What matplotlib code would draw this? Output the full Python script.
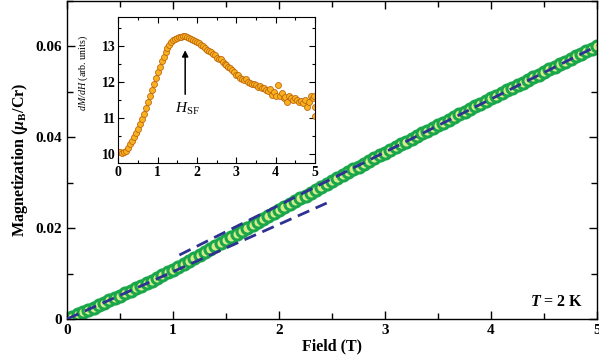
import matplotlib.pyplot as plt
from matplotlib.ticker import MultipleLocator

plt.rcParams['font.family'] = ['Liberation Serif', 'DejaVu Serif']
plt.rcParams['font.weight'] = 'bold'
plt.rcParams['axes.labelweight'] = 'bold'
plt.rcParams['mathtext.fontset'] = 'custom'
plt.rcParams['mathtext.rm'] = 'Liberation Serif:bold'
plt.rcParams['mathtext.it'] = 'Liberation Serif:italic:bold'
plt.rcParams['mathtext.bf'] = 'Liberation Serif:bold'
plt.rcParams['mathtext.sf'] = 'Liberation Serif:italic:normal'   # regular italic for inset
plt.rcParams['mathtext.tt'] = 'Liberation Serif:normal'          # regular roman for inset

# field sweep (T)
field = [0.00, 0.05, 0.10, 0.15, 0.20, 0.25, 0.30, 0.35, 0.40, 0.45,
         0.50, 0.55, 0.60, 0.65, 0.70, 0.75, 0.80, 0.85, 0.90, 0.95,
         1.00, 1.05, 1.10, 1.15, 1.20, 1.25, 1.30, 1.35, 1.40, 1.45,
         1.50, 1.55, 1.60, 1.65, 1.70, 1.75, 1.80, 1.85, 1.90, 1.95,
         2.00, 2.05, 2.10, 2.15, 2.20, 2.25, 2.30, 2.35, 2.40, 2.45,
         2.50, 2.55, 2.60, 2.65, 2.70, 2.75, 2.80, 2.85, 2.90, 2.95,
         3.00, 3.05, 3.10, 3.15, 3.20, 3.25, 3.30, 3.35, 3.40, 3.45,
         3.50, 3.55, 3.60, 3.65, 3.70, 3.75, 3.80, 3.85, 3.90, 3.95,
         4.00, 4.05, 4.10, 4.15, 4.20, 4.25, 4.30, 4.35, 4.40, 4.45,
         4.50, 4.55, 4.60, 4.65, 4.70, 4.75, 4.80, 4.85, 4.90, 4.95,
         5.00]

# magnetization (mu_B/Cr) at T = 2 K
magnet = [0.00000, 0.00050, 0.00101, 0.00151, 0.00201, 0.00252, 0.00303, 0.00355, 0.00407, 0.00459,
          0.00512, 0.00566, 0.00621, 0.00676, 0.00732, 0.00789, 0.00846, 0.00905, 0.00964, 0.01024,
          0.01085, 0.01147, 0.01209, 0.01272, 0.01336, 0.01401, 0.01466, 0.01531, 0.01596, 0.01662,
          0.01728, 0.01795, 0.01861, 0.01927, 0.01993, 0.02060, 0.02126, 0.02192, 0.02258, 0.02323,
          0.02389, 0.02454, 0.02520, 0.02585, 0.02649, 0.02714, 0.02778, 0.02842, 0.02906, 0.02970,
          0.03034, 0.03097, 0.03160, 0.03223, 0.03286, 0.03348, 0.03410, 0.03472, 0.03534, 0.03596,
          0.03657, 0.03718, 0.03779, 0.03839, 0.03899, 0.03960, 0.04020, 0.04080, 0.04140, 0.04199,
          0.04259, 0.04318, 0.04378, 0.04437, 0.04496, 0.04555, 0.04614, 0.04673, 0.04731, 0.04790,
          0.04848, 0.04907, 0.04966, 0.05024, 0.05082, 0.05140, 0.05197, 0.05255, 0.05313, 0.05370,
          0.05428, 0.05486, 0.05543, 0.05600, 0.05658, 0.05715, 0.05772, 0.05829, 0.05887, 0.05944,
          0.06002]

# dM/dH (arb. units) for the inset
dmdh = [10.05, 10.05, 10.03, 10.05, 10.10, 10.18, 10.27, 10.37, 10.47, 10.58,
        10.70, 10.83, 10.97, 11.12, 11.27, 11.43, 11.60, 11.77, 11.93, 12.10,
        12.27, 12.42, 12.57, 12.70, 12.82, 12.93, 13.02, 13.10, 13.15, 13.19,
        13.22, 13.24, 13.25, 13.27, 13.26, 13.25, 13.22, 13.19, 13.16, 13.13,
        13.10, 13.06, 13.03, 12.98, 12.93, 12.88, 12.84, 12.82, 12.77, 12.74,
        12.66, 12.62, 12.63, 12.55, 12.50, 12.47, 12.42, 12.38, 12.32, 12.27,
        12.20, 12.20, 12.12, 12.08, 12.05, 12.08, 12.00, 11.98, 11.95, 11.93,
        11.90, 11.85, 11.88, 11.82, 11.84, 11.78, 11.74, 11.80, 11.65, 11.72,
        11.60, 11.90, 11.60, 11.68, 11.55, 11.58, 11.45, 11.60, 11.55, 11.50,
        11.55, 11.50, 11.45, 11.48, 11.42, 11.50, 11.30, 11.45, 11.62, 11.55,
        11.30]
dmdh_extra_h = [4.98, 5.00]
dmdh_extra = [11.62, 11.05]

# linear guides (slope, intercept, H range)
low_slope, low_icpt, low_range = 0.01040, 0.0, (0.0, 2.45)
high_slope, high_icpt, high_range = 0.01166, 0.0017, (1.06, 5.0)

h_sf = 1.70

fig = plt.figure(figsize=(5.99, 3.62), dpi=100)
ax = fig.add_axes([67/599, 43/362, 530/599, 318.5/362])

ax.plot(field, magnet, 'o', ms=8.0, mfc='#d6ec8a', mec='#1aa64a', mew=2.2, zorder=2)
for s, b, (h0, h1) in [(low_slope, low_icpt, low_range), (high_slope, high_icpt, high_range)]:
    ax.plot([h0, h1], [b + s*h0, b + s*h1], color='#2e3192', lw=2.0,
            dashes=(4.5, 2.5), zorder=3)

ax.set_xlim(0, 5)
ax.set_ylim(0, 0.07)
ax.set_yticks([0, 0.02, 0.04, 0.06])
ax.set_yticklabels(['0', '0.02', '0.04', '0.06'])
ax.xaxis.set_minor_locator(MultipleLocator(0.5))
ax.yaxis.set_minor_locator(MultipleLocator(0.01))
ax.tick_params(which='both', direction='in', top=True, right=True, labelsize=11, width=1.0)
ax.tick_params(which='major', length=6)
ax.tick_params(which='minor', length=4)
for sp in ax.spines.values():
    sp.set_linewidth(1.0)
ax.set_xlabel('Field (T)', fontsize=11.5, fontweight='bold', labelpad=1)
ax.set_ylabel(r'Magnetization ($\mu_\mathrm{B}$/Cr)', fontsize=11.5, fontweight='bold', labelpad=4)
ax.text(0.975, 0.053, r'$T$ = 2 K', transform=ax.transAxes, ha='right', va='center',
        fontsize=11.5, fontweight='bold')

# inset
ins = fig.add_axes([118.3/599, (362-163.3)/362, 196.7/599, 146.6/362])
ins.plot(field, dmdh, 'o', ms=4.3, mfc='#f8b21e', mec='#c0680f', mew=0.6)
ins.plot(dmdh_extra_h, dmdh_extra, 'o', ms=4.3, mfc='#f8b21e', mec='#c0680f', mew=0.6)
ins.set_xlim(0, 5)
ins.set_ylim(9.75, 13.8)
ins.set_xticks([0, 1, 2, 3, 4, 5])
ins.set_yticks([10, 11, 12, 13])
ins.xaxis.set_minor_locator(MultipleLocator(0.5))
ins.yaxis.set_minor_locator(MultipleLocator(0.5))
ins.tick_params(which='both', direction='in', top=True, right=True, labelsize=10, width=0.8, pad=2)
ins.tick_params(which='major', length=4)
ins.tick_params(which='minor', length=2.5)
for sp in ins.spines.values():
    sp.set_linewidth(0.8)
ins.set_ylabel(r'$\mathsf{dM/dH}$ (arb. units)', fontsize=7.2, fontweight='normal')
ins.yaxis.set_label_coords(-0.145, 0.62)
ins.annotate('', xy=(h_sf, 12.95), xytext=(h_sf, 11.58),
             arrowprops=dict(arrowstyle='-|>', color='k', lw=1.1, mutation_scale=9))
ins.text(h_sf + 0.05, 11.25, r'$\mathsf{H}_\mathtt{SF}$', ha='center', va='center', fontsize=11)

fig.savefig('out.png', dpi=100)
